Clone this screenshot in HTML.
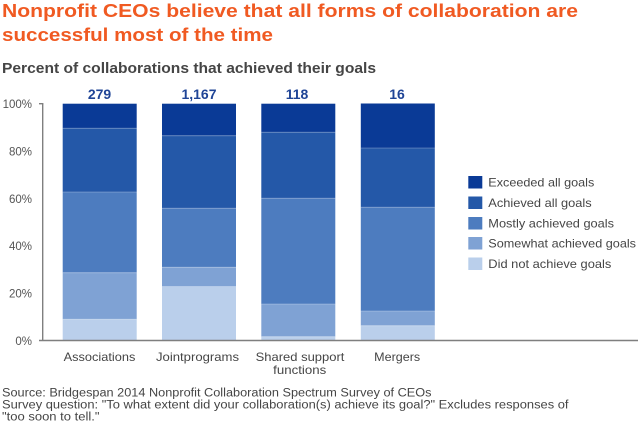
<!DOCTYPE html>
<html>
<head>
<meta charset="utf-8">
<style>
  html, body { margin: 0; padding: 0; background: #ffffff; }
  svg { display: block; }
  text { font-family: "Liberation Sans", "DejaVu Sans", sans-serif; }
</style>
</head>
<body>
<svg width="640" height="430" viewBox="0 0 640 430" xmlns="http://www.w3.org/2000/svg">
  <rect width="640" height="430" fill="#ffffff"/>

  <!-- Title -->
  <text x="2" y="17" font-size="18" font-weight="bold" fill="#f05a22" textLength="576" lengthAdjust="spacingAndGlyphs">Nonprofit CEOs believe that all forms of collaboration are</text>
  <text x="2" y="41" font-size="18" font-weight="bold" fill="#f05a22" textLength="271" lengthAdjust="spacingAndGlyphs">successful most of the time</text>

  <!-- Subtitle -->
  <text x="2" y="73" font-size="15" font-weight="bold" fill="#454545" textLength="374" lengthAdjust="spacingAndGlyphs">Percent of collaborations that achieved their goals</text>

  <!-- Bar totals -->
  <g font-size="14" font-weight="bold" fill="#1f4496" text-anchor="middle">
    <text x="99.5" y="99">279</text>
    <text x="199" y="99">1,167</text>
    <text x="297" y="99">118</text>
    <text x="397" y="99">16</text>
  </g>

  <!-- Bars -->
  <!-- Associations -->
  <g>
    <rect x="62.7" y="103.7" width="74" height="24.6" fill="#0a3a96"/>
    <rect x="62.7" y="128.3" width="74" height="63.7" fill="#2458a8"/>
    <rect x="62.7" y="192" width="74" height="80.7" fill="#4d7cbf"/>
    <rect x="62.7" y="272.7" width="74" height="46.6" fill="#7fa2d4"/>
    <rect x="62.7" y="319.3" width="74" height="21.2" fill="#bacfeb"/>
  </g>
  <!-- Jointprograms -->
  <g>
    <rect x="162" y="103.7" width="74" height="32" fill="#0a3a96"/>
    <rect x="162" y="135.7" width="74" height="72.6" fill="#2458a8"/>
    <rect x="162" y="208.3" width="74" height="58.9" fill="#4d7cbf"/>
    <rect x="162" y="267.2" width="74" height="19.3" fill="#7fa2d4"/>
    <rect x="162" y="286.5" width="74" height="54" fill="#bacfeb"/>
  </g>
  <!-- Shared support functions -->
  <g>
    <rect x="261.3" y="103.7" width="74" height="28.6" fill="#0a3a96"/>
    <rect x="261.3" y="132.3" width="74" height="66" fill="#2458a8"/>
    <rect x="261.3" y="198.3" width="74" height="105.7" fill="#4d7cbf"/>
    <rect x="261.3" y="304" width="74" height="32.7" fill="#7fa2d4"/>
    <rect x="261.3" y="336.7" width="74" height="3.8" fill="#bacfeb"/>
  </g>
  <!-- Mergers -->
  <g>
    <rect x="360.8" y="103.5" width="74" height="44.5" fill="#0a3a96"/>
    <rect x="360.8" y="148" width="74" height="59.3" fill="#2458a8"/>
    <rect x="360.8" y="207.3" width="74" height="103.7" fill="#4d7cbf"/>
    <rect x="360.8" y="311" width="74" height="14.7" fill="#7fa2d4"/>
    <rect x="360.8" y="325.7" width="74" height="14.8" fill="#bacfeb"/>
  </g>

  <!-- Thin separators -->
  <g stroke="#ffffff" stroke-opacity="0.25" stroke-width="1">
    <line x1="62.7" y1="128.3" x2="136.7" y2="128.3"/>
    <line x1="62.7" y1="192" x2="136.7" y2="192"/>
    <line x1="62.7" y1="272.7" x2="136.7" y2="272.7"/>
    <line x1="62.7" y1="319.3" x2="136.7" y2="319.3"/>
    <line x1="162" y1="135.7" x2="236" y2="135.7"/>
    <line x1="162" y1="208.3" x2="236" y2="208.3"/>
    <line x1="162" y1="267.2" x2="236" y2="267.2"/>
    <line x1="162" y1="286.5" x2="236" y2="286.5"/>
    <line x1="261.3" y1="132.3" x2="335.3" y2="132.3"/>
    <line x1="261.3" y1="198.3" x2="335.3" y2="198.3"/>
    <line x1="261.3" y1="304" x2="335.3" y2="304"/>
    <line x1="261.3" y1="336.7" x2="335.3" y2="336.7"/>
    <line x1="360.8" y1="148" x2="434.8" y2="148"/>
    <line x1="360.8" y1="207.3" x2="434.8" y2="207.3"/>
    <line x1="360.8" y1="311" x2="434.8" y2="311"/>
    <line x1="360.8" y1="325.7" x2="434.8" y2="325.7"/>
  </g>

  <!-- Axes -->
  <g stroke="#7f7f7f" stroke-width="1.4" fill="none">
    <line x1="42.7" y1="103.7" x2="42.7" y2="340.5"/>
    <line x1="39" y1="103.7" x2="43.4" y2="103.7"/>
    <line x1="39" y1="340.5" x2="638" y2="340.5"/>
  </g>

  <!-- Y tick labels -->
  <g font-size="11.5" fill="#555555" text-anchor="end">
    <text x="32" y="108">100%</text>
    <text x="32" y="155.4">80%</text>
    <text x="32" y="202.8">60%</text>
    <text x="32" y="250.2">40%</text>
    <text x="32" y="297.6">20%</text>
    <text x="32" y="345">0%</text>
  </g>

  <!-- Category labels -->
  <g font-size="12" fill="#454545" text-anchor="middle">
    <text x="99.5" y="361" textLength="71.7" lengthAdjust="spacingAndGlyphs">Associations</text>
    <text x="197.5" y="361" textLength="83" lengthAdjust="spacingAndGlyphs">Jointprograms</text>
    <text x="300" y="361" textLength="88.8" lengthAdjust="spacingAndGlyphs">Shared support</text>
    <text x="299.7" y="374" textLength="53" lengthAdjust="spacingAndGlyphs">functions</text>
    <text x="397.2" y="361" textLength="46" lengthAdjust="spacingAndGlyphs">Mergers</text>
  </g>

  <!-- Legend -->
  <g>
    <rect x="468.3" y="176" width="14" height="12.5" fill="#0a3a96"/>
    <rect x="468.3" y="196.5" width="14" height="12.5" fill="#2458a8"/>
    <rect x="468.3" y="217" width="14" height="12.5" fill="#4d7cbf"/>
    <rect x="468.3" y="237" width="14" height="12.5" fill="#7fa2d4"/>
    <rect x="468.3" y="257.5" width="14" height="12.5" fill="#bacfeb"/>
  </g>
  <g font-size="12" fill="#454545">
    <text x="488.3" y="186.7" textLength="106" lengthAdjust="spacingAndGlyphs">Exceeded all goals</text>
    <text x="488.3" y="207" textLength="103.4" lengthAdjust="spacingAndGlyphs">Achieved all goals</text>
    <text x="488.3" y="227.5" textLength="125.7" lengthAdjust="spacingAndGlyphs">Mostly achieved goals</text>
    <text x="488.3" y="247.7" textLength="147.7" lengthAdjust="spacingAndGlyphs">Somewhat achieved goals</text>
    <text x="488.3" y="268" textLength="123" lengthAdjust="spacingAndGlyphs">Did not achieve goals</text>
  </g>

  <!-- Source -->
  <g font-size="11.5" fill="#454545">
    <text x="2" y="396.7" textLength="429.5" lengthAdjust="spacingAndGlyphs">Source: Bridgespan 2014 Nonprofit Collaboration Spectrum Survey of CEOs</text>
    <text x="2" y="408.5" textLength="566.5" lengthAdjust="spacingAndGlyphs">Survey question: "To what extent did your collaboration(s) achieve its goal?" Excludes responses of</text>
    <text x="2" y="420.3" textLength="97.5" lengthAdjust="spacingAndGlyphs">"too soon to tell."</text>
  </g>
</svg>
</body>
</html>
